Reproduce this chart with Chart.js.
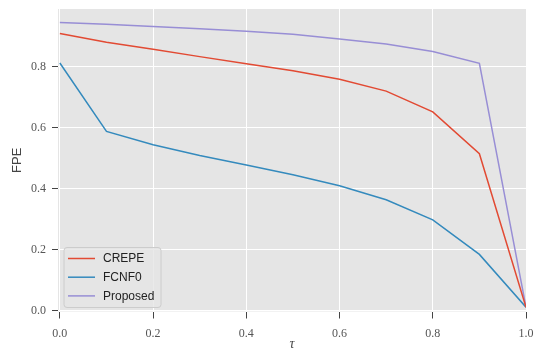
<!DOCTYPE html>
<html>
<head>
<meta charset="utf-8">
<script src="https://cdn.jsdelivr.net/npm/chart.js@4"></script>
<style>
  html, body { margin: 0; padding: 0; background: #fff; }
  #wrap { width: 534px; height: 352px; }
</style>
</head>
<body>
<div id="wrap"><canvas id="fpeChart" width="534" height="352"></canvas></div>
<script>
// data
const tau = [0.0, 0.1, 0.2, 0.3, 0.4, 0.5, 0.6, 0.7, 0.8, 0.9, 1.0];
const crepe = [0.908, 0.879, 0.856, 0.832, 0.809, 0.786, 0.758, 0.719, 0.651, 0.514, 0.011];
const fcnf0 = [0.811, 0.587, 0.543, 0.508, 0.477, 0.445, 0.409, 0.363, 0.297, 0.184, 0.011];
const proposed = [0.944, 0.938, 0.931, 0.923, 0.915, 0.905, 0.890, 0.873, 0.849, 0.810, 0.011];
const xTicks = [0.0, 0.2, 0.4, 0.6, 0.8, 1.0];
const yTicks = [0.0, 0.2, 0.4, 0.6, 0.8];

const seriesNames = ['CREPE', 'FCNF0', 'Proposed'];
const seriesColors = ['#E24A33', '#348ABD', '#988ED5'];

function toPoints(ys) {
    return tau.map((t, i) => ({ x: t, y: ys[i] }));
}

// gray panel behind the grid (ggplot look)
const panelBg = {
    id: 'panelBg',
    beforeDraw(chart) {
        const a = chart.chartArea;
        const ctx = chart.ctx;
        ctx.save();
        ctx.fillStyle = '#E5E5E5';
        ctx.fillRect(a.left, a.top, a.right - a.left, a.bottom - a.top);
        ctx.restore();
    }
};

// axis titles + legend inside the plot, lower left
const extras = {
    id: 'extras',
    afterDraw(chart) {
        const ctx = chart.ctx;
        const a = chart.chartArea;
        ctx.save();

        // y title
        ctx.fillStyle = '#444';
        ctx.font = '13px "Liberation Sans", Arial, sans-serif';
        ctx.textAlign = 'center';
        ctx.textBaseline = 'middle';
        ctx.translate(17, (a.top + a.bottom) / 2);
        ctx.rotate(-Math.PI / 2);
        ctx.fillText('FPE', 0, 0);
        ctx.setTransform(1, 0, 0, 1, 0, 0);

        // x title
        ctx.font = 'italic 14px "Liberation Serif", serif';
        ctx.fillText('\u03C4', (a.left + a.right) / 2, 344);

        // legend box
        const bx = a.left + 6, by = a.bottom - 64, bw = 97, bh = 60;
        ctx.beginPath();
        ctx.roundRect(bx, by, bw, bh, 3);
        ctx.fillStyle = 'rgba(229,229,229,0.8)';
        ctx.fill();
        ctx.strokeStyle = '#cccccc';
        ctx.lineWidth = 1;
        ctx.stroke();

        ctx.font = '12px "Liberation Sans", Arial, sans-serif';
        ctx.textAlign = 'left';
        seriesNames.forEach((name, i) => {
            const ly = by + 11 + i * 18.7;
            ctx.strokeStyle = seriesColors[i];
            ctx.lineWidth = 1.5;
            ctx.beginPath();
            ctx.moveTo(bx + 4, ly);
            ctx.lineTo(bx + 31, ly);
            ctx.stroke();
            ctx.fillStyle = '#222';
            ctx.fillText(name, bx + 39, ly + 0.5);
        });
        ctx.restore();
    }
};

const ctx = document.getElementById('fpeChart').getContext('2d');
new Chart(ctx, {
    type: 'line',
    data: {
        datasets: seriesNames.map((name, i) => ({
            label: name,
            data: toPoints([crepe, fcnf0, proposed][i]),
            borderColor: seriesColors[i],
            backgroundColor: seriesColors[i],
            borderWidth: 1.5,
            pointRadius: 0,
            tension: 0,
            fill: false
        }))
    },
    options: {
        responsive: false,
        animation: false,
        layout: { padding: { top: 9, right: 8, left: 0, bottom: 0 } },
        plugins: {
            legend: { display: false },
            tooltip: { enabled: false }
        },
        scales: {
            x: {
                type: 'linear',
                min: -0.004,
                max: 1.0,
                afterBuildTicks: s => { s.ticks = xTicks.map(v => ({ value: v })); },
                afterFit: s => { s.height = 40.5; s.paddingLeft = 0; s.paddingRight = 0; },
                border: { display: false },
                grid: { color: '#ffffff', lineWidth: 1, tickColor: '#444', tickLength: 7 },
                ticks: {
                    color: '#555',
                    font: { family: '"Liberation Serif", serif', size: 12 },
                    padding: 8,
                    maxRotation: 0,
                    callback: v => v.toFixed(1)
                }
            },
            y: {
                min: -0.003,
                max: 0.988,
                afterBuildTicks: s => { s.ticks = yTicks.map(v => ({ value: v })); },
                afterFit: s => { s.width = 58; s.paddingTop = 0; s.paddingBottom = 0; },
                border: { display: false },
                grid: { color: '#ffffff', lineWidth: 1, tickColor: '#444', tickLength: 6 },
                ticks: {
                    color: '#555',
                    font: { family: '"Liberation Serif", serif', size: 12 },
                    padding: 6,
                    callback: v => v.toFixed(1)
                }
            }
        }
    },
    plugins: [panelBg, extras]
});
</script>
</body>
</html>
